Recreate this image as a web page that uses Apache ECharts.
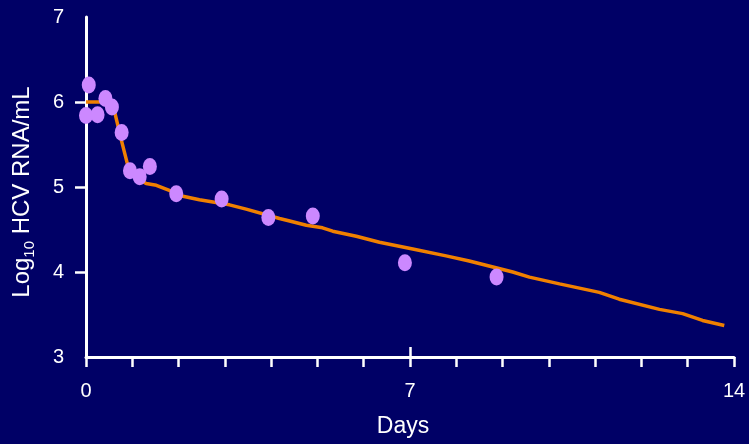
<!DOCTYPE html>
<html>
<head>
<meta charset="utf-8">
<script src="https://cdn.jsdelivr.net/npm/echarts@6/dist/echarts.min.js"></script>
<style>
  html, body { margin: 0; padding: 0; background: #000066; }
  #chart { width: 749px; height: 444px; }
</style>
</head>
<body>
<div id="chart"></div>
<script>
// Observed HCV RNA measurements (days after start of therapy, log10 copies/mL)
const obsDays = [0, 0.06, 0.25, 0.42, 0.56, 0.77, 0.95, 1.16, 1.38, 1.95, 2.93, 3.94, 4.90, 6.89, 8.87];
const obsLog = [5.84, 6.20, 5.85, 6.04, 5.94, 5.64, 5.19, 5.12, 5.24, 4.92, 4.86, 4.64, 4.66, 4.11, 3.94];

// Model-fitted viral decline curve
const fitDays = [0, 0.40, 0.62, 0.76, 0.90, 1.08, 1.30, 1.52, 1.80, 2.02, 2.45, 3.10, 3.46, 4.18, 4.40,
  4.76, 5.11, 5.33, 5.84, 6.34, 7.06, 7.78, 8.28, 9.22, 9.58, 10.23, 11.09, 11.52, 12.39, 12.89, 13.32, 13.79];
const fitLog = [6.00, 6.00, 5.88, 5.56, 5.26, 5.11, 5.04, 5.02, 4.96, 4.90, 4.85, 4.79, 4.74, 4.63, 4.60,
  4.55, 4.52, 4.48, 4.42, 4.35, 4.27, 4.19, 4.13, 4.00, 3.94, 3.86, 3.76, 3.68, 3.56, 3.51, 3.43, 3.37];

// Axis ticks
const xLabelDays = [0, 7, 14];
const yTickValues = [4, 5, 6];

const font = '"Liberation Sans", Arial, sans-serif';
const white = '#ffffff';

const chart = echarts.init(document.getElementById('chart'));
chart.setOption({
  backgroundColor: '#000066',
  animation: false,
  grid: { left: 86, right: 15, top: 17, bottom: 87 },
  xAxis: [{
    type: 'value', min: 0, max: 14, interval: 1,
    name: 'Days', nameLocation: 'middle', nameGap: 58,
    nameTextStyle: { color: white, fontSize: 23, fontFamily: font, padding: [0, 14, 0, 0] },
    axisLine: { show: true, lineStyle: { color: white, width: 3 } },
    axisTick: { show: true, length: 10, lineStyle: { color: white, width: 2.5 } },
    axisLabel: {
      color: white, fontSize: 20, fontFamily: font, margin: 24,
      formatter: v => (xLabelDays.indexOf(v) >= 0 ? String(v) : '')
    },
    splitLine: { show: false }
  }, {
    // inward mark at the one-week point
    type: 'value', min: 0, max: 14, position: 'bottom',
    axisLine: { show: false },
    axisTick: { show: true, inside: true, length: 10, customValues: [7], lineStyle: { color: white, width: 2.5 } },
    axisLabel: { show: false },
    splitLine: { show: false }
  }],
  yAxis: {
    type: 'value', min: 3, max: 7, interval: 1,
    name: '{a|Log}{s|10}{a| HCV RNA/mL}',
    nameLocation: 'middle', nameGap: 49,
    nameTextStyle: {
      color: white, fontFamily: font, padding: [0, 10, 0, 0],
      rich: {
        a: { color: white, fontSize: 24, fontFamily: font, lineHeight: 30 },
        s: { color: white, fontSize: 15, fontFamily: font, lineHeight: 17, verticalAlign: 'bottom' }
      }
    },
    axisLine: { show: true, lineStyle: { color: white, width: 3 } },
    axisTick: { show: true, length: 11, customValues: yTickValues, lineStyle: { color: white, width: 2.5 } },
    axisLabel: { color: white, fontSize: 20, fontFamily: font, margin: 22 },
    splitLine: { show: false }
  },
  series: [{
    type: 'line',
    data: fitDays.map((d, i) => [d, fitLog[i]]),
    showSymbol: false,
    smooth: false,
    lineStyle: { color: '#F08000', width: 3.5 },
    z: 2
  }, {
    type: 'scatter',
    data: obsDays.map((d, i) => [d, obsLog[i]]),
    symbol: 'circle',
    symbolSize: [14, 17],
    itemStyle: { color: '#CC88FF', opacity: 1 },
    z: 3
  }]
});
</script>
</body>
</html>
